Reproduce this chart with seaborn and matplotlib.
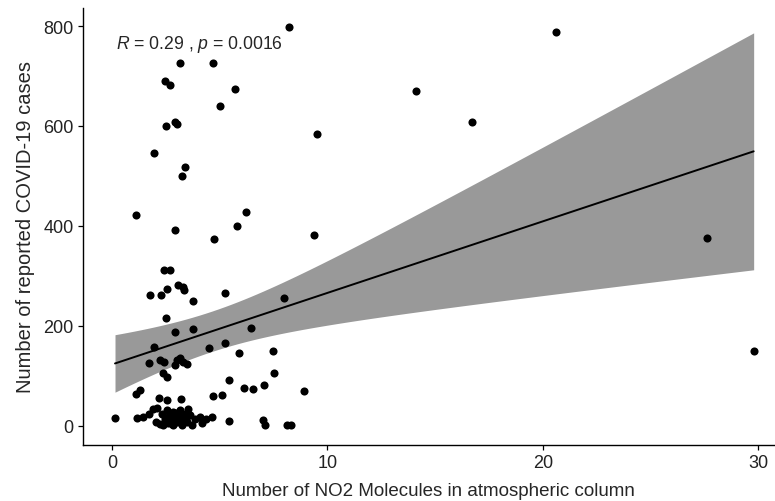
import pandas as pd
import numpy as np
import matplotlib
matplotlib.use('Agg')
from matplotlib import pyplot as plt
import seaborn as sns

# NO2 column values (x) and reported cases (y)
no2 = [8.21, 20.6, 3.16, 4.67, 2.46, 2.69, 5.71, 14.1, 5.03, 16.72,
       2.50, 2.92, 3.03, 9.54, 1.95, 3.37, 3.26, 1.10, 6.20, 2.92,
       5.80, 4.73, 9.37, 27.62, 2.41, 2.69, 3.05, 3.31, 3.36, 1.76,
       2.26, 2.54, 5.24, 3.74, 8.00, 2.52, 2.92, 3.77, 6.46, 1.96,
       4.50, 5.24, 5.89, 7.46, 29.79, 1.72, 2.23, 2.43, 2.92, 3.16,
       3.31, 3.00, 3.47, 2.38, 2.54, 7.50, 5.44, 7.08, 6.14, 6.53,
       8.91, 1.10, 1.30, 2.17, 2.54, 3.20, 4.70, 5.09,
       0.14, 1.17, 1.45, 1.73, 1.92, 2.07, 2.04, 2.23, 2.30, 2.54,
       2.61, 2.85, 2.85, 3.08, 3.16, 3.23, 3.39, 3.47, 3.62, 3.70,
       3.85, 4.08, 4.16, 4.36, 4.62, 2.46, 2.69, 2.92, 2.38, 3.54,
       5.44, 7.02, 7.10, 8.13, 8.29,
       2.60, 2.75, 3.00, 3.10, 3.30, 2.80, 3.45, 2.95, 3.20, 2.65]
cases = [798, 789, 726, 727, 689, 681, 674, 669, 639, 607,
         599, 607, 604, 583, 546, 517, 499, 422, 428, 391,
         399, 373, 381, 376, 311, 311, 281, 277, 272, 261,
         261, 274, 266, 249, 256, 215, 187, 193, 195, 158,
         155, 166, 145, 150, 150, 125, 131, 127, 121, 135,
         127, 131, 124, 106, 97, 106, 91, 81, 76, 73,
         69, 63, 72, 55, 52, 54, 59, 61,
         16, 16, 17, 23, 33, 36, 7, 3, 24, 31,
         11, 27, 1, 17, 31, 1, 24, 7, 21, 1,
         14, 17, 5, 14, 17, 14, 21, 11, 1, 34,
         10, 11, 2, 2, 2,
         5, 18, 8, 22, 12, 4, 15, 26, 9, 19]

cor_label = r"$\it{R}$ = 0.29 , $\it{p}$ = 0.0016"
x_ticks = [0, 10, 20, 30]
y_ticks = [0, 200, 400, 600, 800]

df = pd.DataFrame({'no2': no2, 'cases': cases})

# linear fit with a t-based 95% confidence band (like geom_smooth(method='lm'))
x = df.no2.values
y = df.cases.values
n = len(x)
slope, icpt = np.polyfit(x, y, 1)
resid = y - (slope * x + icpt)
s_err = np.sqrt(np.sum(resid ** 2) / (n - 2))
sxx = np.sum((x - x.mean()) ** 2)
grid = np.linspace(x.min(), x.max(), 100)
fit = slope * grid + icpt
half = 1.981 * s_err * np.sqrt(1 / n + (grid - x.mean()) ** 2 / sxx)

sns.set_style('ticks')
plt.rcParams['font.family'] = ['Liberation Sans', 'DejaVu Sans']
plt.rcParams['mathtext.fontset'] = 'custom'
plt.rcParams['mathtext.rm'] = 'Liberation Sans'
plt.rcParams['mathtext.it'] = 'Liberation Sans:italic'

fig = plt.figure(figsize=(7.75, 5.02), dpi=100)
ax = fig.add_axes([0.1067, 0.112, 0.893, 0.871])

ax.fill_between(grid, fit - half, fit + half, color='#999999', lw=0, zorder=2)
sns.lineplot(x=grid, y=fit, ax=ax, color='black', lw=1.4, zorder=3)
sns.scatterplot(data=df, x='no2', y='cases', ax=ax, color='black', s=34,
                linewidth=0, zorder=4)

ax.text(0.2, 765, cor_label, fontsize=12.7, ha='left', va='center')

ax.set_xlim(-1.36, 30.77)
ax.set_ylim(-38, 837)
ax.set_xticks(x_ticks)
ax.set_yticks(y_ticks)
ax.tick_params(labelsize=13, length=3.5, width=0.9, pad=3, colors='black',
               labelcolor='#222222')
ax.set_xlabel('Number of NO2 Molecules in atmospheric column', fontsize=13.5,
              labelpad=8)
ax.set_ylabel('Number of reported COVID-19 cases', fontsize=14.5, labelpad=6)
for s in ['top', 'right']:
    ax.spines[s].set_visible(False)
for s in ['left', 'bottom']:
    ax.spines[s].set_linewidth(1.0)
    ax.spines[s].set_color('black')

fig.savefig('out.png', dpi=100)
